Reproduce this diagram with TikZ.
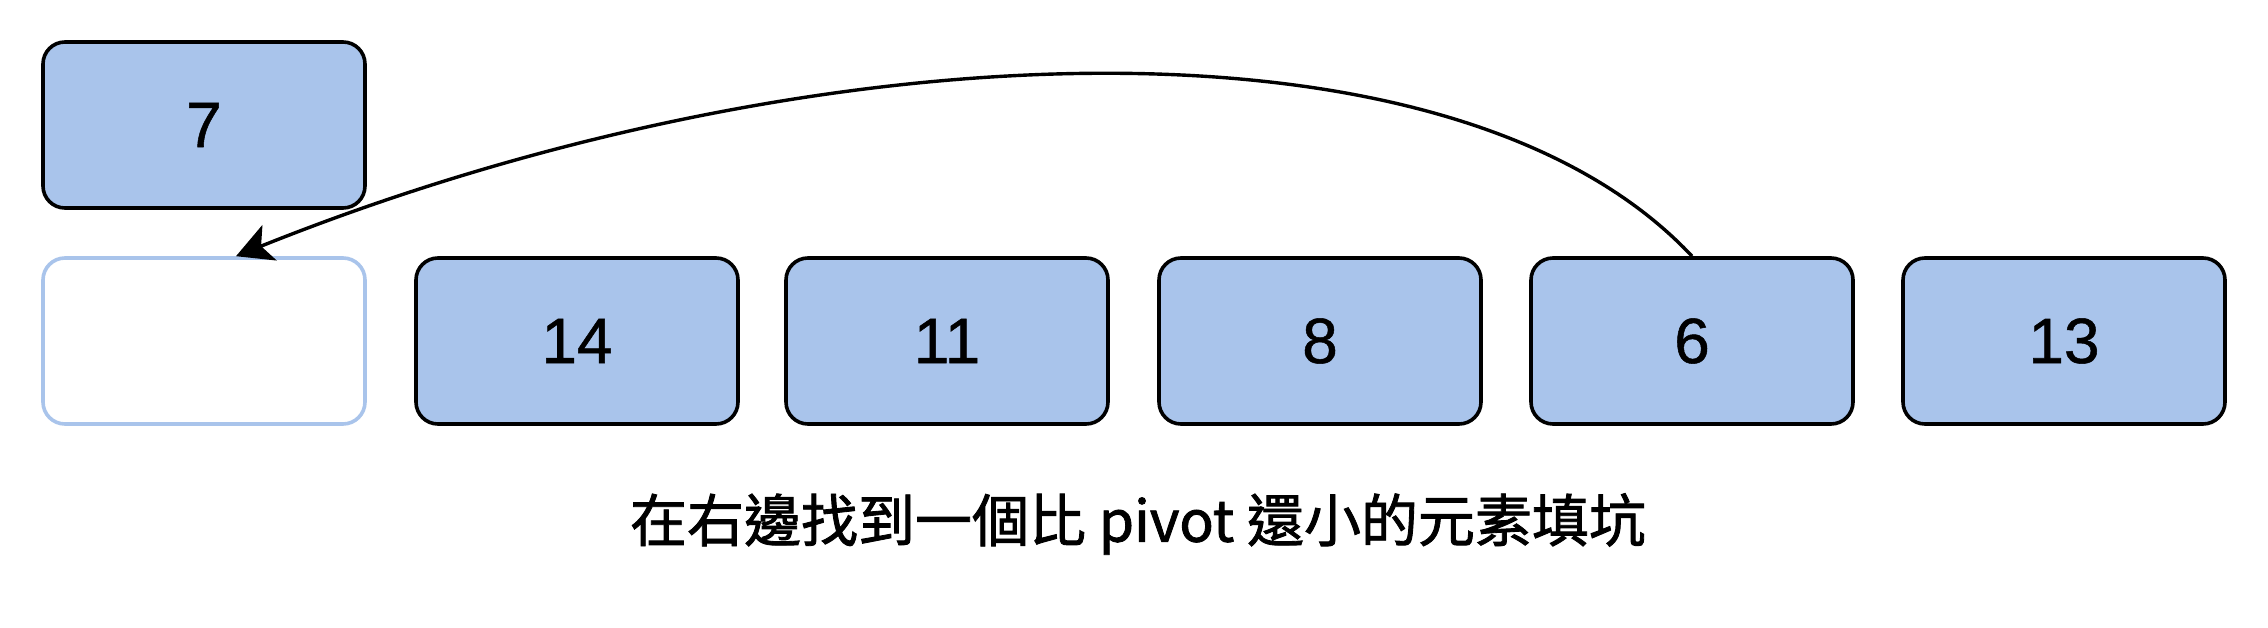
\documentclass[tikz,border=0pt]{standalone}
\usepackage{fontspec}
\setmainfont{Liberation Sans}
\newfontfamily\digitfont[FakeBold=0.8]{Liberation Sans}
\newfontfamily\cjk[FakeBold=1.5]{Noto Sans CJK TC}
\usetikzlibrary{arrows.meta}
\definecolor{boxblue}{HTML}{A9C4EB}
\begin{document}
\begin{tikzpicture}[x=1pt,y=-1pt,
  cell/.style={draw=black, fill=boxblue, line width=3.6pt, rounded corners=22pt,
    minimum width=322pt, minimum height=166pt, inner sep=0pt,
    font=\digitfont\fontsize{64}{70}\selectfont},
  hole/.style={cell, draw=boxblue, fill=white},
  link/.style={line width=3.4pt, -{Stealth[length=36pt,width=38pt,inset=9pt]}},
  caption/.style={font=\cjk\fontsize{57}{62}\selectfont, inner sep=0pt}]
\useasboundingbox[fill=white] (0,0) rectangle (2268,628);
\node[cell] (p) at (204,125) {7};
\node[hole] (e) at (204,341) {};
\node[cell] (a) at (577,341) {14};
\node[cell] (b) at (947,341) {11};
\node[cell] (c) at (1320,341) {8};
\node[cell] (d) at (1692,341) {6};
\node[cell] (f) at (2064,341) {13};
\coordinate (tgt) at ([xshift=32pt]e.north);
\coordinate (c1) at (1450,-2);
\coordinate (c2) at (800,30);
\draw[link] (d.north) .. controls (c1) and (c2) .. (tgt);
\node[caption] (cap) at (1138,524) {在右邊找到一個比 pivot 還小的元素填坑};
\end{tikzpicture}
\end{document}
